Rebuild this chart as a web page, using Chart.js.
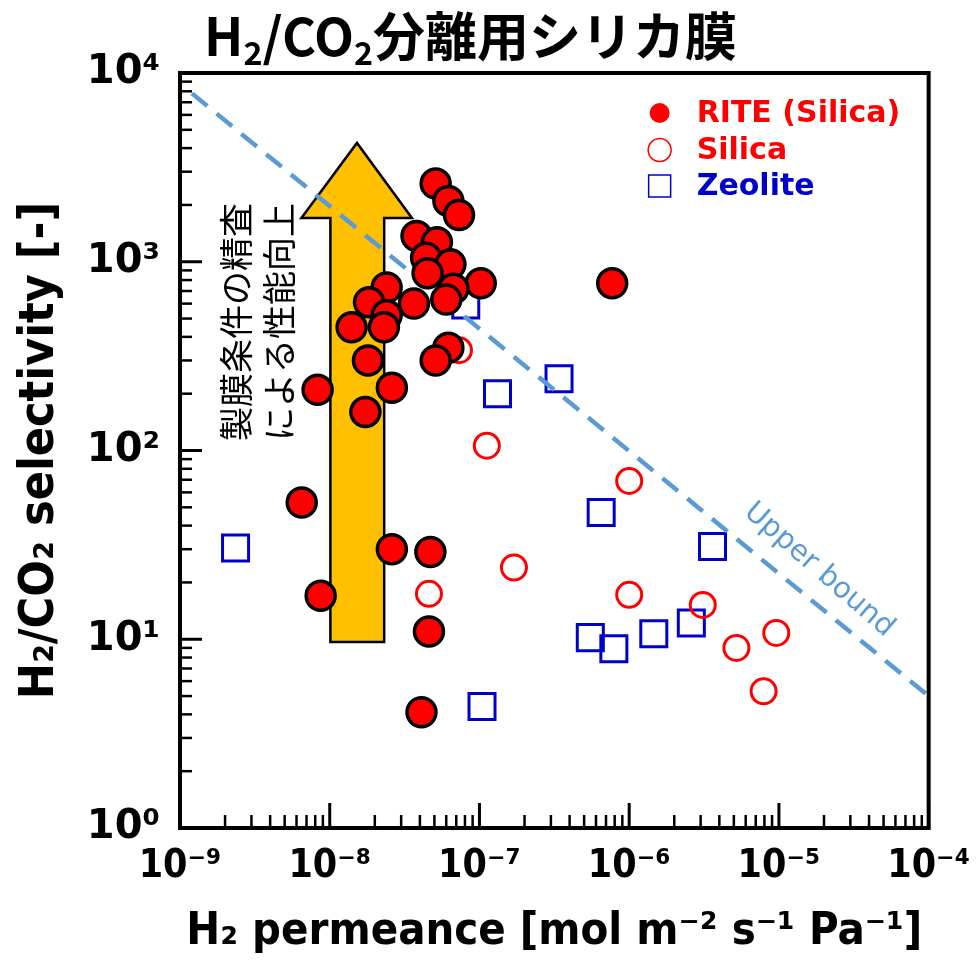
<!DOCTYPE html>
<html><head><meta charset="utf-8">
<script src="https://cdn.jsdelivr.net/npm/chart.js@4/dist/chart.umd.min.js"></script>
<style>
html,body{margin:0;padding:0;background:#fff;}
#wrap{position:relative;width:977px;height:961px;overflow:hidden;}
#title{position:absolute;left:204px;top:2px;font-family:'Noto Sans CJK JP';font-weight:700;font-size:52px;line-height:64px;white-space:nowrap;color:#000;}
#title sub{font-size:0.62em;vertical-align:-0.28em;line-height:0;}
canvas{position:absolute;left:0;top:0;}
</style></head><body>
<div id="wrap"><canvas id="c" width="977" height="961"></canvas><div id="title">H<sub>2</sub>/CO<sub>2</sub>分離用シリカ膜</div></div>
<script>
// ---- data ----
const xTickValues = [1e-9, 1e-8, 1e-7, 1e-6, 1e-5, 1e-4];
const xTickLabels = ['10⁻⁹', '10⁻⁸', '10⁻⁷', '10⁻⁶', '10⁻⁵', '10⁻⁴'];
const yTickValues = [1, 10, 100, 1000, 10000];
const yTickLabels = ['10⁰', '10¹', '10²', '10³', '10⁴'];

const riteX = [5.1e-8, 6.2e-8, 7.3e-8, 3.8e-8, 5.2e-8, 4.4e-8, 6.4e-8, 4.5e-8, 1.02e-7, 2.4e-8, 6.7e-8, 6.0e-8, 3.65e-8, 1.83e-8, 2.4e-8, 2.3e-8, 1.4e-8, 6.2e-8, 5.1e-8, 1.8e-8, 2.6e-8, 8.3e-9, 1.73e-8, 7.7e-7, 6.5e-9, 2.6e-8, 4.7e-8, 8.7e-9, 4.6e-8, 4.1e-8];
const riteY = [2600, 2100, 1770, 1370, 1270, 1050, 970, 870, 770, 730, 720, 630, 600, 610, 520, 450, 450, 350, 300, 300, 215, 210, 160, 770, 53, 30, 29, 17, 11, 4.1];

const silicaX = [7.3e-8, 1.12e-7, 1.0e-6, 1.7e-7, 4.6e-8, 1.0e-6, 3.1e-6, 9.6e-6, 5.2e-6, 7.9e-6];
const silicaY = [340, 106, 69, 24, 17.4, 17.2, 15.2, 10.8, 9.0, 5.3];

const zeoliteX = [8.1e-8, 2.35e-9, 1.32e-7, 3.4e-7, 6.5e-7, 3.6e-6, 1.04e-7, 5.5e-7, 7.9e-7, 1.46e-6, 2.6e-6];
const zeoliteY = [590, 30.4, 200, 240, 47, 31, 4.4, 10.2, 8.9, 10.7, 12.2];

const upperBoundX = [1.2e-9, 1e-4];
const upperBoundY = [7800, 5];

// arrow annotation (data coordinates)
const arrowShaftX = [1.01e-8, 2.31e-8];
const arrowHeadX = [6.47e-9, 3.54e-8];
const arrowTipX = 1.52e-8;
const arrowY = {bottom: 9.67, headBase: 1706, tip: 4260};

const annotLines = ['製膜条件の精査', 'による性能向上'];
const legendItems = ['RITE (Silica)', 'Silica', 'Zeolite'];

// ---- helpers ----
const pts = (xs, ys) => xs.map((x, i) => ({x: x, y: ys[i]}));
function minorValues(lo, hi) {
  const out = [];
  for (let d = lo; d < hi; d++) for (let k = 2; k <= 9; k++) out.push(k * Math.pow(10, d));
  return out;
}

const decorPlugin = {
  id: 'decor',
  beforeDatasetsDraw(chart) {
    const {ctx, scales: {x, y}, chartArea: ca} = chart;
    const sl = x.getPixelForValue(arrowShaftX[0]), sr = x.getPixelForValue(arrowShaftX[1]);
    const hl = x.getPixelForValue(arrowHeadX[0]), hr = x.getPixelForValue(arrowHeadX[1]);
    const tx = x.getPixelForValue(arrowTipX);
    const yb = y.getPixelForValue(arrowY.bottom), yh = y.getPixelForValue(arrowY.headBase), yt = y.getPixelForValue(arrowY.tip);
    ctx.save();
    ctx.beginPath();
    ctx.moveTo(sl, yb); ctx.lineTo(sl, yh); ctx.lineTo(hl, yh); ctx.lineTo(tx, yt);
    ctx.lineTo(hr, yh); ctx.lineTo(sr, yh); ctx.lineTo(sr, yb); ctx.closePath();
    ctx.fillStyle = '#ffc000'; ctx.fill();
    ctx.lineWidth = 2.5; ctx.strokeStyle = '#000'; ctx.lineJoin = 'miter'; ctx.stroke();
    ctx.fillStyle = '#000';
    ctx.font = '34px "Noto Sans CJK JP"';
    ctx.textAlign = 'left'; ctx.textBaseline = 'middle';
    const colX = [ca.left + 56, ca.left + 99];
    annotLines.forEach((t, i) => {
      ctx.save();
      ctx.translate(colX[i], ca.top + 368);
      ctx.rotate(-Math.PI / 2);
      ctx.fillText(t, 0, 0);
      ctx.restore();
    });
    ctx.restore();
  },
  afterDatasetsDraw(chart) {
    const {ctx, scales: {x, y}, chartArea: ca} = chart;
    ctx.save();
    ctx.strokeStyle = '#000'; ctx.lineWidth = 4;
    ctx.strokeRect(ca.left, ca.top, ca.right - ca.left, ca.bottom - ca.top);
    ctx.lineCap = 'butt';
    ctx.lineWidth = 3;
    yTickValues.forEach(v => { const p = y.getPixelForValue(v); ctx.beginPath(); ctx.moveTo(ca.left, p); ctx.lineTo(ca.left + 22, p); ctx.stroke(); });
    xTickValues.forEach(v => { const p = x.getPixelForValue(v); ctx.beginPath(); ctx.moveTo(p, ca.bottom); ctx.lineTo(p, ca.bottom - 25); ctx.stroke(); });
    ctx.lineWidth = 2.5;
    minorValues(0, 4).forEach(v => { const p = y.getPixelForValue(v); ctx.beginPath(); ctx.moveTo(ca.left, p); ctx.lineTo(ca.left + 12, p); ctx.stroke(); });
    minorValues(-9, -4).forEach(v => { const p = x.getPixelForValue(v); ctx.beginPath(); ctx.moveTo(p, ca.bottom); ctx.lineTo(p, ca.bottom - 13); ctx.stroke(); });
    const x1 = x.getPixelForValue(upperBoundX[0]), y1 = y.getPixelForValue(upperBoundY[0]);
    const x2 = x.getPixelForValue(upperBoundX[1]), y2 = y.getPixelForValue(upperBoundY[1]);
    const ang = Math.atan2(y2 - y1, x2 - x1);
    ctx.save();
    ctx.translate(ca.left + 639, ca.top + 497);
    ctx.rotate(ang + 0.03);
    ctx.fillStyle = '#5b9bd5';
    ctx.font = '29px "DejaVu Sans"';
    ctx.textAlign = 'center'; ctx.textBaseline = 'middle';
    ctx.fillText('Upper bound', 0, 0);
    ctx.restore();
    const lx = ca.right - 269, tx = ca.right - 232;
    const rows = [ca.top + 40, ca.top + 77, ca.top + 113];
    ctx.lineWidth = 1.5;
    ctx.beginPath(); ctx.arc(lx, rows[0], 10, 0, Math.PI * 2); ctx.fillStyle = '#ff0000'; ctx.fill();
    ctx.beginPath(); ctx.arc(lx, rows[1], 11.5, 0, Math.PI * 2); ctx.strokeStyle = '#ff0000'; ctx.stroke();
    ctx.strokeStyle = '#0000cc'; ctx.strokeRect(lx - 11, rows[2] - 11, 22, 22);
    ctx.font = 'bold 30px "DejaVu Sans"';
    ctx.textAlign = 'left'; ctx.textBaseline = 'middle';
    const legendColors = ['#ff0000', '#ff0000', '#0000cc'];
    legendItems.forEach((t, i) => { ctx.fillStyle = legendColors[i]; ctx.fillText(t, tx, rows[i] + 1); });
    ctx.restore();
  }
};

new Chart(document.getElementById('c'), {
  type: 'scatter',
  data: {
    datasets: [
      {label: 'RITE (Silica)', data: pts(riteX, riteY), pointStyle: 'circle', pointRadius: 14.5, pointBorderWidth: 3.5,
        pointBackgroundColor: '#ff0000', pointBorderColor: '#000', order: 0},
      {label: 'Upper bound', data: pts(upperBoundX, upperBoundY), showLine: true, pointRadius: 0, borderColor: '#5b9bd5',
        borderWidth: 4.5, borderDash: [20, 12], fill: false, order: 1},
      {label: 'Silica', data: pts(silicaX, silicaY), pointStyle: 'circle', pointRadius: 12.5, pointBorderWidth: 3,
        pointBackgroundColor: 'rgba(255,255,255,0)', pointBorderColor: '#ff0000', order: 2},
      {label: 'Zeolite', data: pts(zeoliteX, zeoliteY), pointStyle: 'rect', pointRadius: 18.4, pointBorderWidth: 3,
        pointBackgroundColor: 'rgba(255,255,255,0)', pointBorderColor: '#0000cc', order: 3}
    ]
  },
  options: {
    responsive: false, animation: false, devicePixelRatio: 1,
    layout: {padding: {top: 73, right: 43, left: 0, bottom: 0}},
    plugins: {legend: {display: false}, tooltip: {enabled: false}, title: {display: false}},
    scales: {
      x: {
        type: 'logarithmic', position: 'bottom', min: 1e-9, max: 1e-4,
        afterFit(s) { s.height = 133; },
        afterBuildTicks(s) { s.ticks = xTickValues.map(v => ({value: v, major: true})); },
        ticks: {callback: (v, i) => xTickLabels[i], autoSkip: false, maxRotation: 0, minRotation: 0, padding: 7,
          color: '#000', font: {family: '"DejaVu Sans Condensed"', weight: 'bold', size: 39}},
        grid: {display: false}, border: {display: false},
        title: {display: true, text: 'H₂ permeance [mol m⁻² s⁻¹ Pa⁻¹]', color: '#000', padding: {top: 0, bottom: 2},
          font: {family: '"DejaVu Sans Condensed"', weight: 'bold', size: 45}}
      },
      y: {
        type: 'logarithmic', position: 'left', min: 1, max: 10000,
        afterFit(s) { s.width = 180; },
        afterBuildTicks(s) { s.ticks = yTickValues.map(v => ({value: v, major: true})); },
        ticks: {callback: (v, i) => yTickLabels[i], autoSkip: false, padding: 12,
          color: '#000', font: {family: '"DejaVu Sans"', weight: 'bold', size: 40}},
        grid: {display: false}, border: {display: false},
        title: {display: true, text: 'H₂/CO₂ selectivity [-]', color: '#000', padding: {top: 12, bottom: 0},
          font: {family: '"DejaVu Sans Condensed"', weight: 'bold', size: 48}}
      }
    }
  },
  plugins: [decorPlugin]
});
</script>
</body></html>
